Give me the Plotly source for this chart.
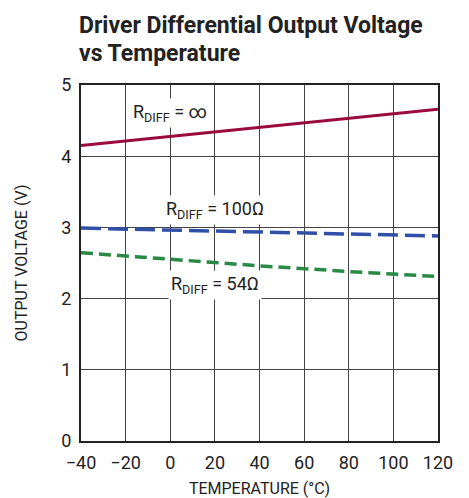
import plotly.graph_objects as go

temperature = [-40, 0, 40, 80, 120]
v_inf = [4.15, 4.28, 4.41, 4.53, 4.66]
v_100 = [2.99, 2.96, 2.94, 2.91, 2.88]
v_54 = [2.645, 2.55, 2.46, 2.38, 2.31]

x_ticks = [-40, -20, 0, 20, 40, 60, 80, 100, 120]
y_ticks = [0, 1, 2, 3, 4, 5]

FONT = "Roboto, sans-serif"

fig = go.Figure()
fig.add_trace(go.Scatter(x=temperature, y=v_inf, mode="lines",
                         line=dict(color="#9b0b3a", width=3)))
fig.add_trace(go.Scatter(x=temperature, y=v_100, mode="lines",
                         line=dict(color="#3050a8", width=3.5, dash="20px,7px")))
fig.add_trace(go.Scatter(x=temperature, y=v_54, mode="lines",
                         line=dict(color="#2a8a45", width=3.5, dash="12px,6px")))

labels = [
    (0, 4.61, "R<sub>DIFF</sub> = ∞"),
    (20, 3.24, "R<sub>DIFF</sub> = 100Ω"),
    (20, 2.19, "R<sub>DIFF</sub> = 54Ω"),
]
for x, y, t in labels:
    fig.add_annotation(x=x, y=y, text=t, showarrow=False, bgcolor="white",
                       font=dict(family=FONT, size=18, color="#222"),
                       borderpad=2)

title_lines = ["Driver Differential Output Voltage", "vs Temperature"]
for i, t in enumerate(title_lines):
    fig.add_annotation(xref="paper", yref="paper", x=-4/357, y=1 + (60 - 28 * i) / 356,
                       xanchor="left", yanchor="middle", showarrow=False,
                       text="<b>" + t + "</b>",
                       font=dict(family=FONT, size=23, color="#222"))

fig.update_layout(
    width=461, height=490,
    margin=dict(l=73, r=31, t=77, b=57),
    paper_bgcolor="white", plot_bgcolor="white",
    showlegend=False,
    font=dict(family=FONT, color="#222", size=18),
)
fig.update_xaxes(range=[-40, 120], tickvals=x_ticks, showgrid=True,
                 gridcolor="#444", gridwidth=1, zeroline=False,
                 showline=True, linecolor="#222", linewidth=2, mirror=True,
                 ticks="", tickfont=dict(size=18), automargin=False,
                 ticklabelstandoff=4,
                 title=dict(text="TEMPERATURE (°C)", font=dict(size=16), standoff=14))
fig.update_yaxes(range=[0, 5], tickvals=y_ticks, showgrid=True,
                 gridcolor="#444", gridwidth=1, zeroline=False,
                 showline=True, linecolor="#222", linewidth=2, mirror=True,
                 ticks="", tickfont=dict(size=18), automargin=False,
                 ticklabelstandoff=4,
                 title=dict(text="OUTPUT VOLTAGE (V)", font=dict(size=16), standoff=30))

fig.write_html("out.html")
